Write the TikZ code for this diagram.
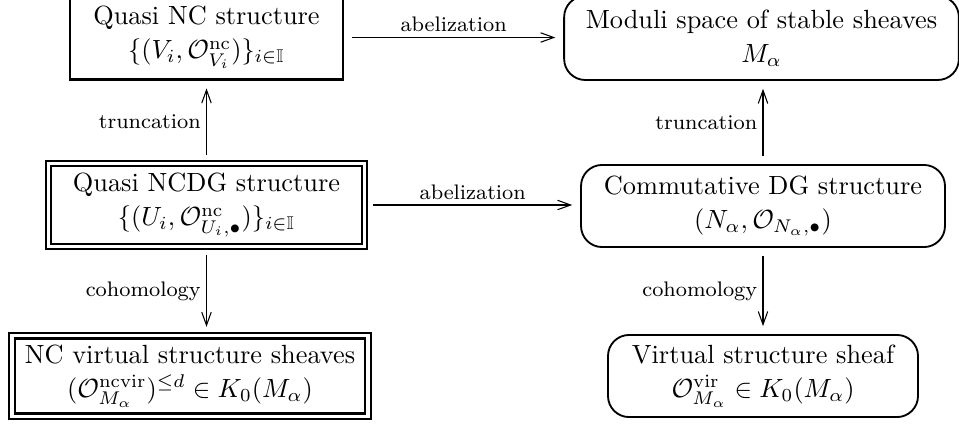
\documentclass[tikz,border=0pt]{standalone}
\usepackage{amsmath,amssymb}
\usetikzlibrary{arrows.meta}

\tikzset{
  plainbox/.style={draw=black, line width=0.8pt, align=center},
  dblbox/.style={draw=black, double, line width=0.65pt, double distance=1.2pt, align=center},
  heavydblbox/.style={draw=black, double, line width=0.9pt, double distance=1.2pt, align=center},
  roundbox/.style={draw=black, line width=0.7pt, rounded corners=8pt, align=center},
  mapto/.style={-{Straight Barb[length=5pt,width=3.6pt]}, line width=0.4pt, shorten <=3pt, shorten >=3pt},
  maplabel/.style={font=\footnotesize, inner sep=2pt}
}

\begin{document}
\begin{tikzpicture}[x=0.38pt, y=-0.38pt]
\useasboundingbox (0, 0) rectangle (959, 425);

\node (quasinc) [plainbox, minimum width=103.7pt, minimum height=31.9pt] at (206.5, 37.5) {Quasi NC structure\\[1pt] $\{(V_i,\mathcal{O}^{\mathrm{nc}}_{V_i})\}_{i\in\mathbb{I}}$};

\node (moduli) [roundbox, minimum width=150pt, minimum height=31.9pt] at (761.5, 38) {Moduli space of stable sheaves\\[1pt] $M_\alpha$};

\node (quasincdg) [dblbox, minimum width=120pt, minimum height=31.5pt] at (206.5, 205) {Quasi NCDG structure\\[1pt] $\{(U_i,\mathcal{O}^{\mathrm{nc}}_{U_i,\bullet})\}_{i\in\mathbb{I}}$};

\node (commdg) [roundbox, minimum width=138.3pt, minimum height=31.2pt] at (763, 206) {Commutative DG structure\\[1pt] $(N_\alpha,\mathcal{O}_{N_\alpha,\bullet})$};

\node (ncvirtual) [heavydblbox, minimum width=135.3pt, minimum height=30.4pt] at (190, 376) {NC virtual structure sheaves\\[1pt] $(\mathcal{O}^{\mathrm{ncvir}}_{M_\alpha})^{\leq d}\in K_0(M_\alpha)$};

\node (virtual) [roundbox, minimum width=117.8pt, minimum height=31.2pt] at (763, 376) {Virtual structure sheaf\\[1pt] $\mathcal{O}^{\mathrm{vir}}_{M_\alpha}\in K_0(M_\alpha)$};


\draw (quasinc.east) edge[mapto] node[maplabel, above] {abelization} (quasinc.east -| moduli.west);
\draw (quasincdg.east) edge[mapto] node[maplabel, above] {abelization} (quasincdg.east -| commdg.west);
\draw (quasincdg.north) edge[mapto] node[maplabel, left] {truncation} (quasinc.south);
\draw (commdg.north) edge[mapto] node[maplabel, left] {truncation} (commdg.north |- moduli.south);
\draw (quasincdg.south) edge[mapto] node[maplabel, left] {cohomology} (quasincdg.south |- ncvirtual.north);
\draw (commdg.south) edge[mapto] node[maplabel, left] {cohomology} (virtual.north);

\end{tikzpicture}
\end{document}
